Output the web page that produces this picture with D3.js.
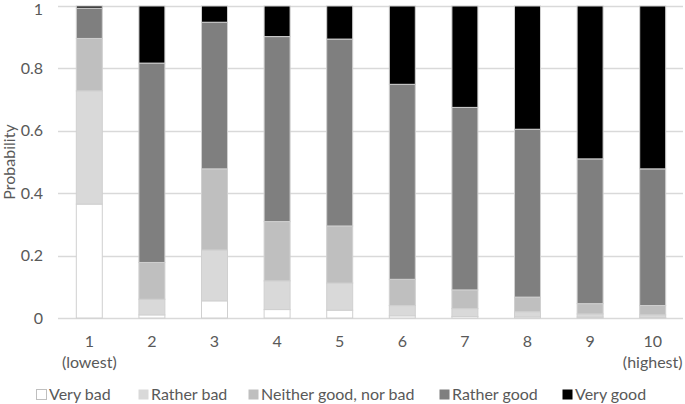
<!DOCTYPE html>
<html>
<head>
<meta charset="utf-8">
<script src="https://cdn.jsdelivr.net/npm/d3@7"></script>
<style>
  html, body { margin: 0; padding: 0; background: #fff; }
  svg { display: block; font-family: Lato, "Open Sans", sans-serif; }
</style>
</head>
<body>
<svg id="chart" width="685" height="404"></svg>
<script>
const categories = ["1", "2", "3", "4", "5", "6", "7", "8", "9", "10"];
const categorySubLabels = ["(lowest)", "", "", "", "", "", "", "", "", "(highest)"];
const seriesNames = ["Very bad", "Rather bad", "Neither good, nor bad", "Rather good", "Very good"];
const veryBad     = [0.365, 0.010, 0.055, 0.027, 0.025, 0.007, 0.005, 0.004, 0.003, 0.002];
const ratherBad   = [0.363, 0.050, 0.163, 0.092, 0.087, 0.033, 0.025, 0.016, 0.010, 0.008];
const neither     = [0.168, 0.118, 0.260, 0.190, 0.183, 0.084, 0.060, 0.047, 0.033, 0.030];
const ratherGood  = [0.097, 0.639, 0.470, 0.593, 0.599, 0.625, 0.585, 0.538, 0.464, 0.438];
const veryGood    = [0.007, 0.183, 0.052, 0.098, 0.106, 0.251, 0.325, 0.395, 0.490, 0.522];
const yTicks = [0, 0.2, 0.4, 0.6, 0.8, 1];
const yTickLabels = ["0", "0.2", "0.4", "0.6", "0.8", "1"];

const colors = ["#ffffff", "#d9d9d9", "#bfbfbf", "#7f7f7f", "#000000"];
const seriesValues = [veryBad, ratherBad, neither, ratherGood, veryGood];

const table = categories.map((c, i) => {
  const row = { cat: c };
  seriesNames.forEach((s, k) => { row[s] = seriesValues[k][i]; });
  return row;
});

const svg = d3.select("#chart");
const margin = { left: 58, right: 1, top: 6, bottom: 86 };
const W = 685, H = 404;
const fs = "16px";

const x = d3.scaleBand().domain(categories).range([margin.left, W - margin.right]).paddingInner(0.585).paddingOuter(0.2925);
const y = d3.scaleLinear().domain([0, 1]).range([H - margin.bottom, margin.top]);

const textColor = "#595959";

// gridlines
svg.append("g").selectAll("line").data(yTicks).join("line")
  .attr("x1", margin.left).attr("x2", W - 2)
  .attr("y1", d => Math.round(y(d)) + 0.5).attr("y2", d => Math.round(y(d)) + 0.5)
  .attr("stroke", "#d9d9d9").attr("stroke-width", 1.3);

// y axis labels
const yAxis = d3.axisLeft(y).tickValues(yTicks).tickFormat((d, i) => yTickLabels[i]).tickSize(0).tickPadding(0);
const ya = svg.append("g").attr("transform", `translate(43,0)`).call(yAxis);
ya.select(".domain").remove();
ya.selectAll("text").attr("fill", textColor).style("font-size", fs).style("font-family", "Lato, 'Open Sans', sans-serif")
  .attr("dy", (d) => d === 1 ? "0.5em" : "0.32em");

svg.append("text")
  .attr("transform", `translate(15,${y(0.5)}) rotate(-90)`)
  .attr("text-anchor", "middle")
  .attr("fill", textColor).style("font-size", fs)
  .text("Probability");

// stacked bars
const stack = d3.stack().keys(seriesNames)(table);
svg.append("g").selectAll("g").data(stack).join("g")
  .attr("fill", (d, i) => colors[i])
  .selectAll("rect").data(d => d).join("rect")
  .attr("x", d => x(d.data.cat))
  .attr("width", x.bandwidth())
  .attr("y", d => y(d[1]))
  .attr("height", d => y(d[0]) - y(d[1]))
  .attr("stroke", "#d0d0d0").attr("stroke-width", 1);

// x labels
const xl = svg.append("g");
xl.selectAll("text.main").data(categories).join("text")
  .attr("class", "main")
  .attr("x", d => x(d) + x.bandwidth() / 2)
  .attr("y", 347)
  .attr("text-anchor", "middle").attr("fill", textColor).style("font-size", fs)
  .text(d => d);
xl.selectAll("text.sub").data(categories).join("text")
  .attr("class", "sub")
  .attr("x", d => x(d) + x.bandwidth() / 2)
  .attr("y", 367.5)
  .attr("text-anchor", "middle").attr("fill", textColor).style("font-size", fs)
  .text((d, i) => categorySubLabels[i]);

// legend
const legendX = [36, 138, 248, 439, 562];
const lg = svg.append("g").selectAll("g").data(seriesNames).join("g")
  .attr("transform", (d, i) => `translate(${legendX[i]},389)`);
lg.append("rect").attr("x", 0.5).attr("y", 0.5).attr("width", 10).attr("height", 10)
  .attr("fill", (d, i) => colors[i]).attr("stroke", (d, i) => i === 0 ? "#bfbfbf" : "none");
lg.append("text").attr("x", 13).attr("y", 11)
  .attr("fill", textColor).style("font-size", fs)
  .text(d => d);
</script>
</body>
</html>
